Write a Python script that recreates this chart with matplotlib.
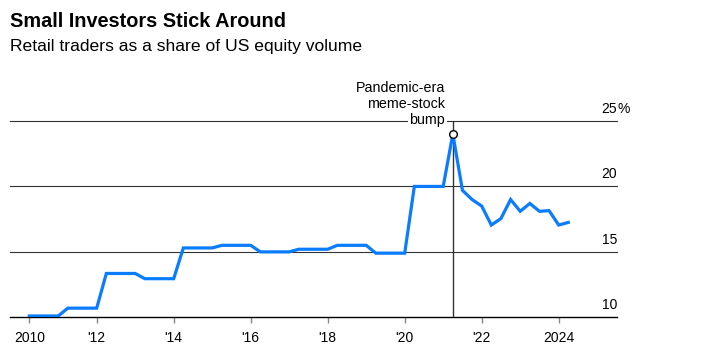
import numpy as np
import pandas as pd
import matplotlib
matplotlib.use('Agg')
import matplotlib.pyplot as plt

plt.rcParams['font.family'] = ['Liberation Sans', 'DejaVu Sans']

# quarterly retail share of US equity volume, %
quarters = pd.period_range('2010Q1', '2024Q1', freq='Q')
retail_share = [
    10.1, 10.1, 10.1, 10.1,
    10.7, 10.7, 10.7, 10.7,
    13.35, 13.35, 13.35, 13.35,
    12.95, 12.95, 12.95, 12.95,
    15.3, 15.3, 15.3, 15.3,
    15.5, 15.5, 15.5, 15.5,
    15.0, 15.0, 15.0, 15.0,
    15.2, 15.2, 15.2, 15.2,
    15.5, 15.5, 15.5, 15.5,
    14.9, 14.9, 14.9, 14.9,
    20.0, 20.0, 20.0, 20.0,
    24.0, 19.7, 19.0, 18.5,
    17.05, 17.55, 19.0, 18.1,
    18.7, 18.1, 18.15, 17.05,
    17.25,
]
tick_years = [2010, 2012, 2014, 2016, 2018, 2020, 2022, 2024]
tick_labels = ['2010', "'12", "'14", "'16", "'18", "'20", "'22", '2024']
y_levels = [10, 15, 20, 25]
y_labels = ['10', '15', '20', '25']
note_lines = ['Pandemic-era', 'meme-stock', 'bump']

# plot quarters at their quarter-end date
x = np.array([q.year + q.quarter / 4 for q in quarters])
y = np.array(retail_share)

fig = plt.figure(figsize=(7.04, 3.55), dpi=100)
ax = fig.add_axes([10 / 704, 37.7 / 355, 607 / 704, 196.3 / 355])
ax.set_xlim(2009.748, 2025.514)
ax.set_ylim(10, 25)
for s in ax.spines.values():
    s.set_visible(False)

for lvl in y_levels:
    if lvl == y_levels[0]:
        ax.axhline(lvl, color='black', lw=1.0, zorder=2, clip_on=False)
    else:
        ax.axhline(lvl, color='#333333', lw=0.8, zorder=1, clip_on=False)

# right side value labels sitting on the gridlines
for lvl, lab in zip(y_levels, y_labels):
    ax.annotate(lab, xy=(1, lvl), xycoords=('axes fraction', 'data'),
                xytext=(0, 6), textcoords='offset points',
                ha='right', va='baseline', fontsize=10, color='black')
ax.annotate('%', xy=(1, y_levels[-1]), xycoords=('axes fraction', 'data'),
            xytext=(0, 6), textcoords='offset points',
            ha='left', va='baseline', fontsize=10, color='black')

# peak marker + callout
peak = int(np.argmax(y))
ax.vlines(x[peak], y_levels[0], y_levels[-1], color='#333333', lw=1.0, zorder=2)
ax.plot(x, y, color='#0a7cff', lw=2.3, zorder=3, solid_joinstyle='miter')
ax.plot(x[peak], y[peak], 'o', ms=5.5, mfc='white', mec='black', mew=1.0, zorder=4)

# one text per line so only the last line knocks out the gridline
step = 11.6
n = len(note_lines)
for i, line in enumerate(note_lines):
    kw = {}
    if i == n - 1:
        kw['bbox'] = dict(facecolor='white', edgecolor='none', pad=1)
    ax.annotate(line, xy=(x[peak], y_levels[-1]),
                xytext=(-5.5, -2.4 + step * (n - 1 - i)),
                textcoords='offset points', ha='right', va='baseline',
                fontsize=10.3, zorder=5, **kw)

tick_pos = [max(t, x[0]) for t in tick_years]
ax.set_xticks(tick_pos)
ax.set_xticklabels(tick_labels)
ax.set_yticks([])
ax.tick_params(axis='x', length=4, width=1, color='#888888', pad=6, labelsize=10)

fig.text(10 / 704, 1 - 26.7 / 355, 'Small Investors Stick Around',
         fontsize=14.3, fontweight='bold', va='baseline', ha='left')
fig.text(10 / 704, 1 - 50.5 / 355, 'Retail traders as a share of US equity volume',
         fontsize=12.6, va='baseline', ha='left')

fig.savefig('out.png', dpi=100)
